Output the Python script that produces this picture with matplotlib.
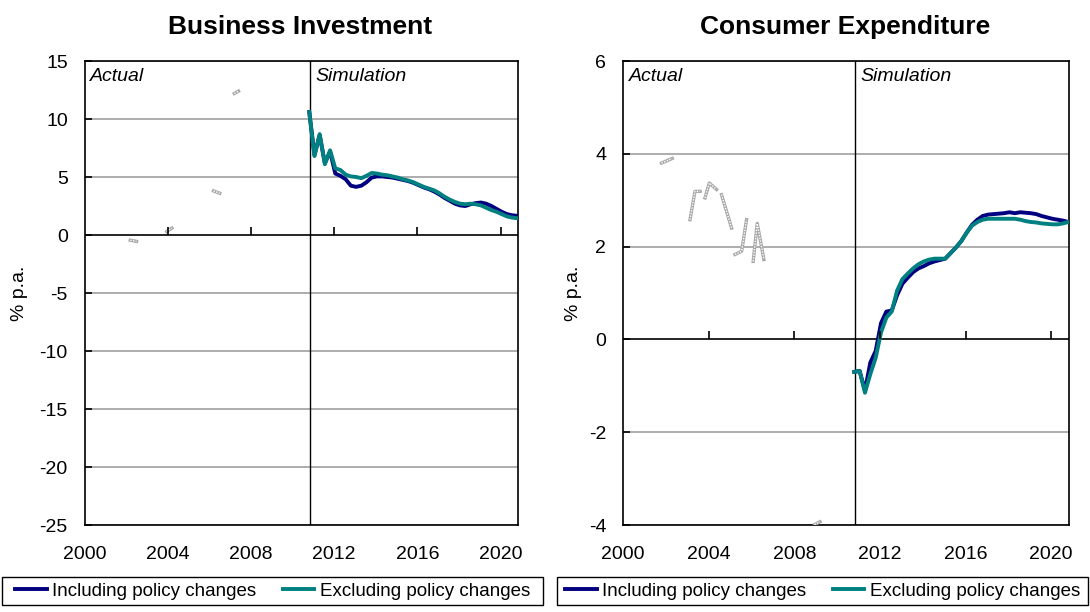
import numpy as np
import matplotlib
matplotlib.use("Agg")
import matplotlib.pyplot as plt
from matplotlib.patches import Rectangle

# ---- data -------------------------------------------------------------
# quarterly simulation dates, 2010Q4 .. 2020Q4
sim_dates = [2010.8 + 0.25 * i for i in range(41)]
sim_start = 2010.85

bi_incl = [10.6, 6.9, 8.6, 6.2, 7.2, 5.3, 5.1, 4.8, 4.25, 4.15, 4.25, 4.55, 4.95, 5.05,
           5.05, 5.0, 4.95, 4.85, 4.75, 4.65, 4.5, 4.3, 4.1, 3.95, 3.75, 3.5, 3.2, 2.95,
           2.7, 2.55, 2.5, 2.65, 2.75, 2.8, 2.7, 2.5, 2.25, 2.0, 1.8, 1.7, 1.65]
bi_excl = [10.6, 6.8, 8.7, 6.1, 7.3, 5.75, 5.6, 5.2, 5.05, 5.0, 4.9, 5.1, 5.35, 5.3,
           5.2, 5.15, 5.05, 4.95, 4.8, 4.7, 4.55, 4.35, 4.15, 4.0, 3.85, 3.6, 3.3, 3.05,
           2.85, 2.7, 2.65, 2.7, 2.65, 2.55, 2.35, 2.15, 2.0, 1.8, 1.6, 1.5, 1.45]

ce_incl = [-0.7, -0.68, -1.1, -0.5, -0.25, 0.35, 0.6, 0.62, 0.95, 1.2, 1.33, 1.45, 1.53,
           1.58, 1.64, 1.68, 1.71, 1.74, 1.86, 1.98, 2.12, 2.3, 2.47, 2.58, 2.66, 2.69,
           2.7, 2.71, 2.72, 2.74, 2.72, 2.74, 2.73, 2.72, 2.7, 2.66, 2.63, 2.6, 2.58,
           2.56, 2.53]
ce_excl = [-0.7, -0.68, -1.15, -0.75, -0.4, 0.15, 0.47, 0.6, 1.05, 1.3, 1.42, 1.53, 1.62,
           1.68, 1.72, 1.74, 1.74, 1.74, 1.86, 1.98, 2.12, 2.3, 2.45, 2.53, 2.58, 2.6,
           2.6, 2.6, 2.6, 2.6, 2.6, 2.58, 2.55, 2.53, 2.52, 2.5, 2.49, 2.48, 2.48, 2.5,
           2.53]

# actual history (only fragments of it are visible in the source)
nan = np.nan
bi_actual_dates = [2002.2, 2002.5, nan, 2003.95, 2004.2, nan, 2006.2, 2006.5, nan, 2007.2, 2007.4]
bi_actual_values = [-0.45, -0.55, nan, 0.3, 0.6, nan, 3.8, 3.6, nan, 12.2, 12.4]
ce_actual_dates = [2001.8, 2002.3, nan, 2003.13, 2003.36, 2003.6, nan, 2003.83, 2004.03,
                   2004.37, nan, 2004.6, 2005.07, nan, 2005.23, 2005.54, 2005.77, nan,
                   2006.08, 2006.27, 2006.58, nan, 2008.95, 2009.2]
ce_actual_values = [3.8, 3.9, nan, 2.58, 3.19, 3.19, nan, 3.05, 3.37, 3.23, nan, 3.12, 2.4,
                    nan, 1.83, 1.9, 2.58, nan, 1.68, 2.5, 1.72, nan, -3.99, -3.93]

x_ticks = [2000, 2004, 2008, 2012, 2016, 2020]
bi_yticks = [15, 10, 5, 0, -5, -10, -15, -20, -25]
ce_yticks = [6, 4, 2, 0, -2, -4]

NAVY = "#000080"
TEAL = "#008080"

plt.rcParams["font.family"] = ["Liberation Sans", "DejaVu Sans"]
plt.rcParams["font.size"] = 14
plt.rcParams["axes.unicode_minus"] = False

W, H = 1090, 612


def draw_panel(fig, rect, title, title_x, ylabel_x, yticks, actual_x, actual_y,
               incl, excl, legend_box):
    ax = fig.add_axes(rect)
    ax.set_xlim(2000, 2020.83)
    ax.set_ylim(min(yticks), max(yticks))

    # gridlines and zero axis
    for y in yticks:
        if y == 0:
            ax.axhline(0, color="black", lw=1.2, zorder=2)
        else:
            ax.axhline(y, color="#a0a0a0", lw=1.2, zorder=1)
    ax.axvline(sim_start, color="black", lw=1.0, zorder=2)

    # hatched grey history
    ax.plot(actual_x, actual_y, color="#a8a8a8", lw=2.4, zorder=3)
    ax.plot(actual_x, actual_y, color="white", lw=1.0, ls=(0, (1, 1)), zorder=3)

    l1, = ax.plot(sim_dates, incl, color=NAVY, lw=2.8, zorder=4)
    l2, = ax.plot(sim_dates, excl, color=TEAL, lw=2.8, zorder=5)

    # x ticks sit on the zero line, labels at the bottom
    ax.set_xticks(x_ticks)
    ax.tick_params(axis="x", length=0, pad=15)
    ax.plot(x_ticks[1:], [0] * (len(x_ticks) - 1), ls="none", marker=2, ms=6,
            mew=1.2, color="black", zorder=6)

    ax.set_yticks(yticks)
    ax.tick_params(axis="y", direction="in", length=5, width=1.2, pad=12)
    for s in ax.spines.values():
        s.set_linewidth(1.2)

    fig.text(ylabel_x / W, 1 - 293 / H, "% p.a.", rotation=90, ha="center", va="center",
             fontsize=14)

    ax.annotate("Actual", xy=(0, 1), xycoords="axes fraction", xytext=(4, -5),
                textcoords="offset points", ha="left", va="top", style="italic")
    ax.annotate("Simulation", xy=(sim_start, 1), xycoords=ax.get_xaxis_transform(),
                xytext=(4, -5), textcoords="offset points", ha="left", va="top",
                style="italic")

    fig.text(title_x / W, 1 - 27 / H, title, ha="center", va="center",
             fontsize=19, fontweight="bold")

    # legend box spanning the panel width
    bx, by, bw, bh = legend_box
    fig.patches.append(Rectangle((bx / W, 1 - (by + bh) / H), bw / W, bh / H,
                                 transform=fig.transFigure, fill=False,
                                 edgecolor="black", lw=1.0))
    ax.legend([l1, l2], ["Including policy changes", "Excluding policy changes"],
              loc="center", bbox_to_anchor=((bx + bw / 2) / W, 1 - (by + bh / 2) / H),
              bbox_transform=fig.transFigure, ncol=2, frameon=False,
              fontsize=13.5, handlelength=1.7, handletextpad=0.3, columnspacing=1.4,
              borderpad=0, borderaxespad=0)
    return ax


def main():
    fig = plt.figure(figsize=(W / 100, H / 100), dpi=100)

    draw_panel(fig, [84.5 / W, 1 - 525 / H, 433.5 / W, 464 / H], "Business Investment",
               300, 20, bi_yticks, bi_actual_dates, bi_actual_values, bi_incl, bi_excl,
               (2, 577, 541, 28))
    draw_panel(fig, [623 / W, 1 - 525 / H, 446 / W, 464 / H], "Consumer Expenditure",
               845, 573, ce_yticks, ce_actual_dates, ce_actual_values, ce_incl, ce_excl,
               (557, 577, 531, 28))

    fig.savefig("out.png", dpi=100)


if __name__ == "__main__":
    main()
